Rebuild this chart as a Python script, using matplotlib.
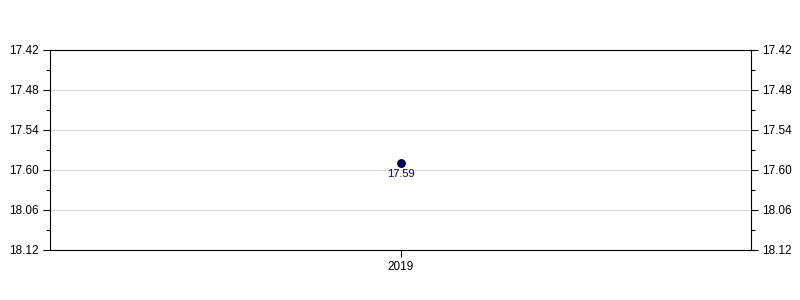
import matplotlib
matplotlib.use('Agg')
import matplotlib.pyplot as plt
from matplotlib.ticker import MultipleLocator

plt.rcParams['font.family'] = ['Liberation Sans', 'DejaVu Sans']

# chart data
years = ['2019']
times = [17.59]  # minutes.seconds
y_tick_labels = ['17.42', '17.48', '17.54', '17.60', '18.06', '18.12']


def to_seconds(t):
    """Converts a minutes.seconds value to total seconds."""
    minutes = int(t)
    secs = round((t - minutes) * 100)
    return minutes * 60 + secs


secs = [to_seconds(t) for t in times]
tick_pos = [to_seconds(float(s)) for s in y_tick_labels]

fig = plt.figure(figsize=(8, 3), dpi=100)
ax = fig.add_axes([50 / 800, 50 / 300, 701 / 800, 200 / 300])

x = list(range(len(years)))
ax.plot(x, secs, linestyle='none', marker='o', markersize=5.5,
        markerfacecolor='#000080', markeredgecolor='black', markeredgewidth=0.8,
        zorder=3)
for xi, si, t in zip(x, secs, times):
    ax.annotate(f'{t:.2f}', (xi, si), xytext=(0, -4), textcoords='offset points',
                ha='center', va='top', fontsize=8, color='#000080')

ax.set_xlim(-0.5, len(years) - 0.5)
ax.set_xticks(x)
ax.set_xticklabels(years, fontsize=8.5)

ax.set_ylim(tick_pos[-1], tick_pos[0])
ax.set_yticks(tick_pos)
ax.set_yticklabels(y_tick_labels, fontsize=8.5)
ax.yaxis.set_minor_locator(MultipleLocator(3))
ax.tick_params(axis='y', which='both', left=True, right=True,
               labelleft=True, labelright=True, direction='out')
ax.tick_params(axis='both', which='major', length=5, width=0.8, pad=3)
ax.tick_params(axis='y', which='minor', length=3, width=0.8)
ax.grid(axis='y', which='major', color='#d9d9d9', linewidth=0.8)
ax.set_axisbelow(True)
for sp in ax.spines.values():
    sp.set_linewidth(0.8)

fig.savefig('out.png', dpi=100)
